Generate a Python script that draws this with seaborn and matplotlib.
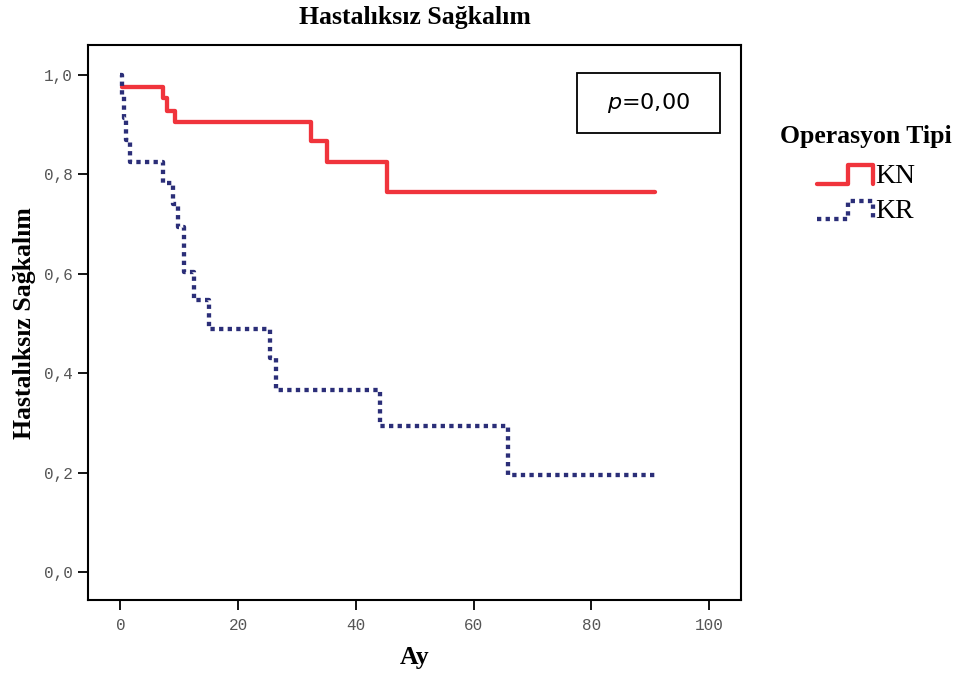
import numpy as np
import pandas as pd
import seaborn as sns
import matplotlib.pyplot as plt
from matplotlib.lines import Line2D
from matplotlib.patches import Rectangle
from matplotlib.legend_handler import HandlerLine2D

sns.set_style('white')
plt.rcParams['font.family'] = ['Liberation Serif', 'DejaVu Serif']
plt.rcParams['text.color'] = 'black'
plt.rcParams['axes.labelcolor'] = 'black'

# Kaplan-Meier curves (months, survival)
kn_time = [0.3, 7.2, 7.9, 9.3, 32.4, 35.1, 45.3, 90.8]
kn_surv = [0.976, 0.954, 0.928, 0.905, 0.867, 0.825, 0.765, 0.765]

kr_time = [0.0, 0.3, 0.6, 1.0, 1.6, 7.2, 8.9, 9.8, 10.8, 12.5, 15.0, 25.4, 26.4, 44.1, 65.8, 90.8]
kr_surv = [1.0, 0.957, 0.913, 0.87, 0.826, 0.783, 0.74, 0.694, 0.604, 0.547, 0.489, 0.43, 0.366, 0.294, 0.195, 0.195]

groups = ['KN', 'KR']
colors = {'KN': '#f0343c', 'KR': '#2b2e78'}
styles = {'KN': '-', 'KR': (0, (1, 1))}

df = pd.concat([
    pd.DataFrame({'Ay': kn_time, 'surv': kn_surv, 'grup': 'KN'}),
    pd.DataFrame({'Ay': kr_time, 'surv': kr_surv, 'grup': 'KR'}),
])

fig = plt.figure(figsize=(9.57, 6.75), dpi=100)
ax = fig.add_axes([0.092, 0.111, 0.682, 0.822])

for g in groups:
    sns.lineplot(data=df[df.grup == g], x='Ay', y='surv', color=colors[g],
                 drawstyle='steps-post', estimator=None, sort=False, lw=3.1,
                 linestyle=styles[g], ax=ax)

ax.set_xlim(-5.5, 105.4)
ax.set_ylim(-0.056, 1.06)
ax.set_xticks(np.arange(0, 101, 20))
ax.set_yticks(np.arange(0, 1.01, 0.2))
ax.set_yticklabels(['0,0', '0,2', '0,4', '0,6', '0,8', '1,0'])
for lab in ax.get_xticklabels() + ax.get_yticklabels():
    lab.set_family('Liberation Mono')
    lab.set_fontsize(11.5)
    lab.set_color('#555555')
ax.tick_params(bottom=True, left=True, direction='out', length=7, width=1.3,
               color='black')
ax.tick_params(axis='x', pad=6)
ax.tick_params(axis='y', pad=4)
for s in ax.spines.values():
    s.set_linewidth(1.5)
    s.set_color('black')

ax.set_title('Hastalıksız Sağkalım', fontsize=18.5, fontweight='bold', y=1.038, pad=0)
ax.set_xlabel('Ay', fontsize=18.5, fontweight='bold', va='center')
ax.set_ylabel('Hastalıksız Sağkalım', fontsize=18.5, fontweight='bold', va='center', ha='center')
ax.xaxis.set_label_coords(0.5, -0.104)
ax.yaxis.set_label_coords(-0.098, 0.5)

# p-value box
ax.add_patch(Rectangle((0.749, 0.841), 0.219, 0.109, transform=ax.transAxes,
                       fill=False, lw=1.3, ec='black'))
ax.text(0.8585, 0.895, r'$p$=0,00', transform=ax.transAxes, ha='center', va='center',
        fontsize=16, family='DejaVu Sans', math_fontfamily='dejavusans')


class StepHandler(HandlerLine2D):
    def create_artists(self, legend, orig, xd, yd, w, h, fontsize, trans):
        xs = np.array([0, 0.55, 0.55, 1.0, 1.0]) * w - xd
        ys = np.array([0.05, 0.05, 0.85, 0.85, 0.05]) * h - yd
        ln = Line2D(xs, ys)
        ln.update_from(orig)
        ln.set_data(xs, ys)
        ln.set_transform(trans)
        return [ln]


handles = [Line2D([], [], color=colors[g], lw=3.1, linestyle=styles[g]) for g in groups]
leg = fig.legend(handles, groups, title='Operasyon Tipi', loc='upper right',
                 bbox_to_anchor=(952 / 957, 1 - 125 / 675), frameon=False, fontsize=20,
                 title_fontproperties={'weight': 'bold', 'size': 18.5, 'family': 'Liberation Serif'},
                 borderpad=0, borderaxespad=0,
                 handlelength=2.0, handleheight=0.9, handletextpad=0.1, labelspacing=0.3,
                 handler_map={Line2D: StepHandler()})
leg._legend_box.align = 'center'
leg._legend_box.sep = 10

fig.savefig('out.png', dpi=100)
